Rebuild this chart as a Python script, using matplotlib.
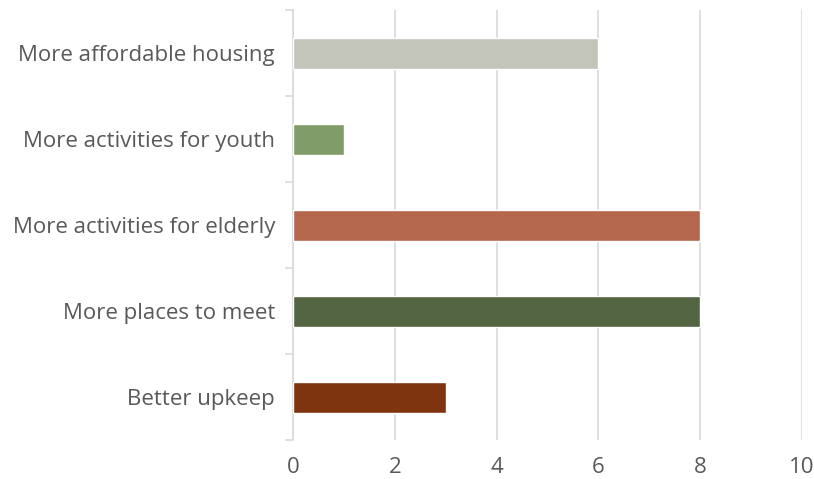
import numpy as np
import matplotlib.pyplot as plt
from matplotlib.ticker import FixedLocator

categories = ['Better upkeep', 'More places to meet', 'More activities for elderly',
              'More activities for youth', 'More affordable housing']
values = [3, 8, 8, 1, 6]
colors = ['#7f3410', '#536542', '#b5674d', '#809c69', '#c3c4ba']

plt.rcParams['font.family'] = ['Open Sans', 'DejaVu Sans']
txt = '#595959'
grid = '#d9d9d9'

fig = plt.figure(figsize=(8.14, 4.79), dpi=100)
ax = fig.add_axes([0.36, 0.081, 0.625, 0.898])

y = np.arange(len(categories))
ax.barh(y, values, height=0.36, color=colors, edgecolor='white', linewidth=1, zorder=3)

ax.set_xlim(0, 10)
ax.set_ylim(-0.5, len(categories) - 0.5)
ax.set_xticks(range(0, 11, 2))
ax.set_yticks(y)
ax.set_yticklabels(categories)
ax.yaxis.set_minor_locator(FixedLocator(np.arange(-0.5, len(categories), 1)))
ax.tick_params(axis='y', which='major', length=0, pad=13, labelsize=16, labelcolor=txt)
ax.tick_params(axis='y', which='minor', length=6, color=grid, width=1.2)
ax.tick_params(axis='x', length=0, pad=12, labelsize=16, labelcolor=txt)
ax.grid(axis='x', color=grid, linewidth=1.2, zorder=0)
for s in ['top', 'right', 'bottom']:
    ax.spines[s].set_visible(False)
ax.spines['left'].set_color(grid)
ax.spines['left'].set_linewidth(1.2)

fig.savefig('out.png', dpi=100)
